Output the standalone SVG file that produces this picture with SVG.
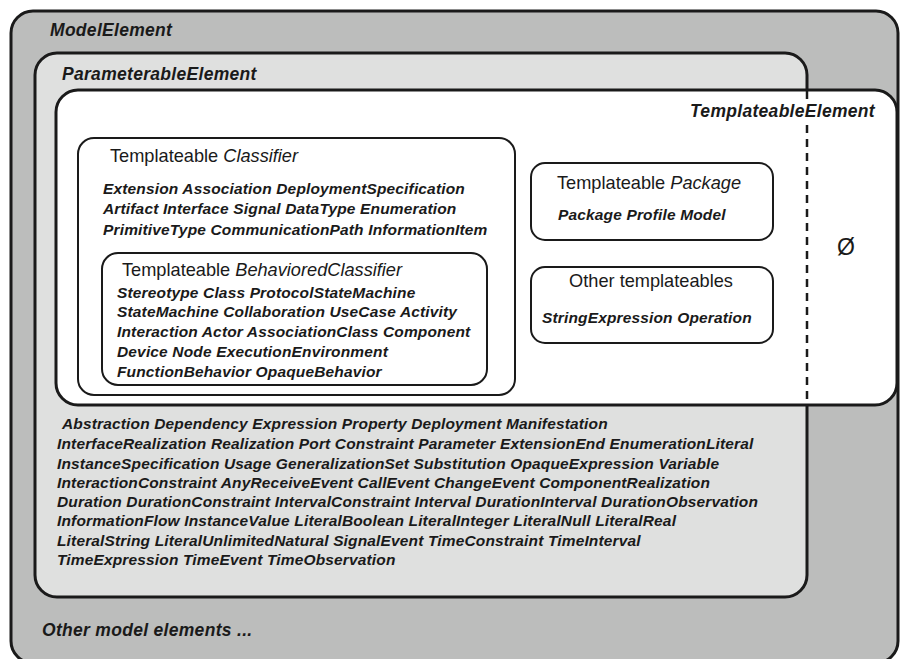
<svg xmlns="http://www.w3.org/2000/svg" width="901" height="659" viewBox="0 0 901 659">
<style>
.box{stroke:#1a1a1a;stroke-width:3;}
.inner{fill:#ffffff;stroke:#1a1a1a;stroke-width:2;}
.t{font-family:"Liberation Sans",Arial,sans-serif;fill:#1a1a1a;}
.title{font-size:17.5px;font-weight:bold;font-style:italic;letter-spacing:0.3px;}
.head{font-size:18.2px;}
.list{font-size:15.5px;font-weight:bold;font-style:italic;letter-spacing:0.15px;}
.it{font-style:italic;}
.dash{stroke:#1a1a1a;stroke-width:2.5;}
</style>
<rect width="901" height="659" fill="#ffffff"/>
<g id="ModelElement">
<rect class="box" x="11" y="11" width="887" height="652" rx="22" fill="#bcbdbc"/>
<text class="t title" x="50" y="36">ModelElement</text>
<text class="t title" x="42" y="636">Other model elements ...</text>
</g>
<g id="ParameterableElement">
<rect class="box" x="35" y="53" width="772" height="544" rx="22" fill="#dfe0df"/>
<text class="t title" x="62" y="80">ParameterableElement</text>
<g class="t list">
<text x="62" y="429">Abstraction Dependency Expression Property Deployment Manifestation</text>
<text x="57" y="449">InterfaceRealization Realization Port Constraint Parameter ExtensionEnd EnumerationLiteral</text>
<text x="57" y="469">InstanceSpecification Usage GeneralizationSet Substitution OpaqueExpression Variable</text>
<text x="57" y="488">InteractionConstraint AnyReceiveEvent CallEvent ChangeEvent ComponentRealization</text>
<text x="57" y="507">Duration DurationConstraint IntervalConstraint Interval DurationInterval DurationObservation</text>
<text x="57" y="526">InformationFlow InstanceValue LiteralBoolean LiteralInteger LiteralNull LiteralReal</text>
<text x="57" y="546">LiteralString LiteralUnlimitedNatural SignalEvent TimeConstraint TimeInterval</text>
<text x="57" y="565">TimeExpression TimeEvent TimeObservation</text>
</g>
</g>
<g id="TemplateableElement">
<rect class="box" x="56" y="90" width="841" height="315" rx="22" fill="#ffffff"/>
<line class="dash" x1="807" y1="90" x2="807" y2="99"/>
<line class="dash" x1="807" y1="125" x2="807" y2="405" stroke-dasharray="8,6"/>
<text class="t title" x="875" y="117" text-anchor="end">TemplateableElement</text>
<text class="t" x="846" y="255" font-size="23" text-anchor="middle">Ø</text>
</g>
<g id="TemplateableClassifier">
<rect class="inner" x="78" y="138" width="437" height="257" rx="16"/>
<text class="t head" x="110" y="162">Templateable <tspan class="it">Classifier</tspan></text>
<g class="t list">
<text x="103" y="194">Extension Association DeploymentSpecification</text>
<text x="103" y="214">Artifact Interface Signal DataType Enumeration</text>
<text x="103" y="235">PrimitiveType CommunicationPath InformationItem</text>
</g>
</g>
<g id="TemplateableBehavioredClassifier">
<rect class="inner" x="102" y="253" width="385" height="132" rx="16"/>
<text class="t head" x="122" y="276">Templateable <tspan class="it">BehavioredClassifier</tspan></text>
<g class="t list">
<text x="117" y="298">Stereotype Class ProtocolStateMachine</text>
<text x="117" y="317">StateMachine Collaboration UseCase Activity</text>
<text x="117" y="337">Interaction Actor AssociationClass Component</text>
<text x="117" y="357">Device Node ExecutionEnvironment</text>
<text x="117" y="377">FunctionBehavior OpaqueBehavior</text>
</g>
</g>
<g id="TemplateablePackage">
<rect class="inner" x="531" y="163" width="242" height="77" rx="14"/>
<text class="t head" x="557" y="189">Templateable <tspan class="it">Package</tspan></text>
<text class="t list" x="558" y="220">Package Profile Model</text>
</g>
<g id="OtherTemplateables">
<rect class="inner" x="531" y="267" width="242" height="76" rx="14"/>
<text class="t head" x="651" y="287" text-anchor="middle">Other templateables</text>
<text class="t list" x="542" y="323">StringExpression Operation</text>
</g>
</svg>
